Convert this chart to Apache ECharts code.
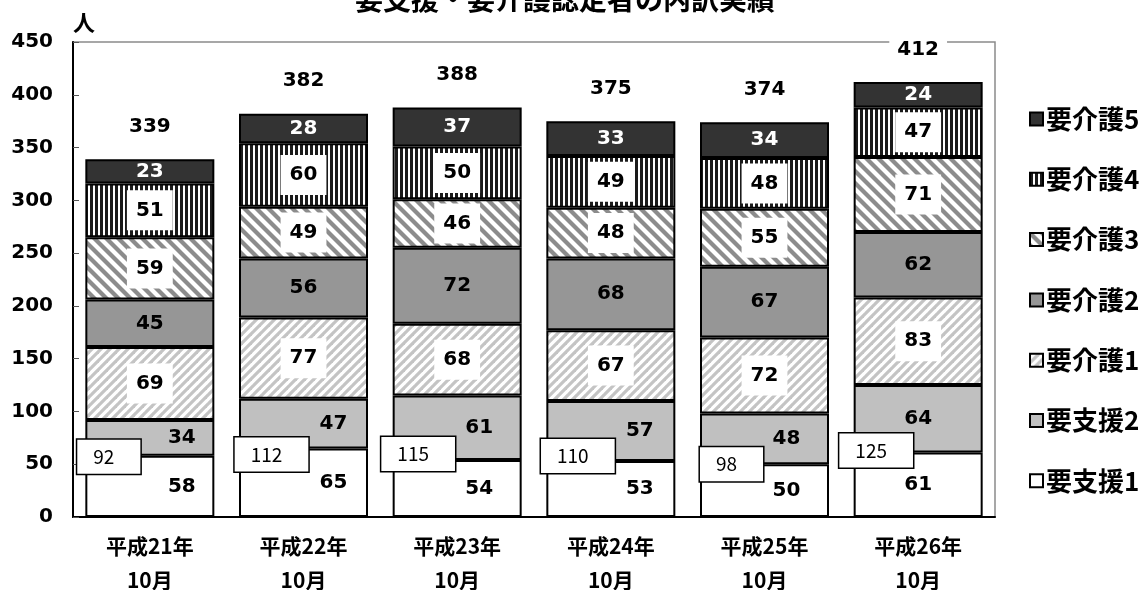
<!DOCTYPE html>
<html>
<head>
<meta charset="utf-8">
<script src="https://cdn.jsdelivr.net/npm/echarts@6/dist/echarts.min.js"></script>
<style>
  html, body { margin: 0; padding: 0; background: #fff; }
  #chart { width: 1147px; height: 590px; }
</style>
</head>
<body>
<div id="chart"></div>
<script>
// 年度
const categories = ["平成21年\n10月", "平成22年\n10月", "平成23年\n10月", "平成24年\n10月", "平成25年\n10月", "平成26年\n10月"];
// 各区分の人数
const shien1 = [58, 65, 54, 53, 50, 61];
const shien2 = [34, 47, 61, 57, 48, 64];
const kaigo1 = [69, 77, 68, 67, 72, 83];
const kaigo2 = [45, 56, 72, 68, 67, 62];
const kaigo3 = [59, 49, 46, 48, 55, 71];
const kaigo4 = [51, 60, 50, 49, 48, 47];
const kaigo5 = [23, 28, 37, 33, 34, 24];
const totals = [339, 382, 388, 375, 374, 412];
const shienTotals = [92, 112, 115, 110, 98, 125];
const yTicks = [0, 50, 100, 150, 200, 250, 300, 350, 400, 450];

// ラベル位置の微調整 (px)
const shienShift = [32, 30, 22, 29, 22, 0];
const boxShift = [[-41, 1], [-32, 6], [-39, -6], [-33, -5], [-33, 0], [-42, -2]];

const FONT = "'Noto Sans CJK JP', sans-serif";
const NUM_FONT = "'DejaVu Sans', 'Noto Sans CJK JP', sans-serif";

function stripes(dir, period, width, color) {
  const c = document.createElement("canvas");
  c.width = period;
  c.height = period;
  const ctx = c.getContext("2d");
  ctx.fillStyle = "#fff";
  ctx.fillRect(0, 0, period, period);
  ctx.strokeStyle = color;
  ctx.lineWidth = width;
  for (let k = -2; k <= 2; k++) {
    ctx.beginPath();
    if (dir === "/") {
      ctx.moveTo(k * period - period, 2 * period);
      ctx.lineTo(k * period + 2 * period, -period);
    } else {
      ctx.moveTo(k * period - period, -period);
      ctx.lineTo(k * period + 2 * period, 2 * period);
    }
    ctx.stroke();
  }
  return { image: c, repeat: "repeat" };
}

function vStripes() {
  const c = document.createElement("canvas");
  c.width = 5;
  c.height = 4;
  const ctx = c.getContext("2d");
  ctx.fillStyle = "#fff";
  ctx.fillRect(0, 0, 5, 4);
  ctx.fillStyle = "#1a1a1a";
  ctx.fillRect(0, 0, 3, 4);
  return { image: c, repeat: "repeat" };
}

const boldLabel = {
  show: true,
  fontFamily: NUM_FONT,
  fontWeight: "bold",
  fontSize: 20,
  color: "#000",
};
const boxedLabel = Object.assign({}, boldLabel, {
  backgroundColor: "#fff",
  padding: [10, 9],
  lineHeight: 20,
});

function barSeries(name, data, color, label, perItem) {
  return {
    name: name,
    type: "bar",
    stack: "all",
    barWidth: 129,
    data: data.map((v, i) => (perItem ? { value: v, label: perItem(i) } : v)),
    itemStyle: { color: color, borderColor: "#000", borderWidth: 2 },
    label: label,
    emphasis: { disabled: true },
  };
}

const series = [
  barSeries("要支援1", shien1, "#ffffff", boldLabel, (i) => ({ offset: [shienShift[i], 0] })),
  barSeries("要支援2", shien2, "#c0c0c0", boldLabel, (i) => ({ offset: [shienShift[i], 0] })),
  barSeries("要介護1", kaigo1, stripes("/", 9, 3.2, "#c4c4c4"), boxedLabel),
  barSeries("要介護2", kaigo2, "#969696", boldLabel),
  barSeries("要介護3", kaigo3, stripes("\\", 12, 4.2, "#8c8c8c"), boxedLabel),
  barSeries("要介護4", kaigo4, vStripes(), boxedLabel),
  barSeries("要介護5", kaigo5, "#333333", Object.assign({}, boldLabel, { color: "#fff" })),
  {
    name: "合計",
    type: "scatter",
    symbolSize: 1,
    itemStyle: { color: "rgba(0,0,0,0)", opacity: 1 },
    z: 10,
    data: totals,
    label: Object.assign({}, boldLabel, {
      position: "top",
      distance: 20,
      backgroundColor: "#fff",
      padding: [2, 8],
    }),
    emphasis: { disabled: true },
  },
  {
    name: "要支援計",
    type: "scatter",
    symbolSize: 1,
    itemStyle: { color: "rgba(0,0,0,0)", opacity: 1 },
    z: 10,
    data: shien1.map((v, i) => ({
      value: v,
      label: { offset: boxShift[i], formatter: String(shienTotals[i]) },
    })),
    label: {
      show: true,
      position: "inside",
      fontFamily: FONT,
      fontWeight: "normal",
      fontSize: 19,
      color: "#000",
      backgroundColor: "#fff",
      borderColor: "#000",
      borderWidth: 1.5,
      padding: [6, 26, 6, 16],
      lineHeight: 22,
      align: "center",
    },
    emphasis: { disabled: true },
  },
];

const chart = echarts.init(document.getElementById("chart"));
chart.setOption({
  animation: false,
  backgroundColor: "#fff",
  title: {
    text: "要支援・要介護認定者の内訳実績",
    left: 560,
    top: -20,
    textAlign: "center",
    textStyle: { fontFamily: FONT, fontWeight: "bold", fontSize: 28, color: "#000" },
  },
  legend: {
    orient: "vertical",
    left: 1024,
    top: 101,
    icon: "rect",
    itemWidth: 13,
    itemHeight: 13,
    itemGap: 34.3,
    data: ["要介護5", "要介護4", "要介護3", "要介護2", "要介護1", "要支援2", "要支援1"],
    textStyle: { fontFamily: FONT, fontWeight: "bold", fontSize: 26, color: "#000", padding: [0, 0, 0, -2] },
    selectedMode: false,
  },
  grid: {
    left: 73,
    right: 152,
    top: 42,
    bottom: 73,
    outerBoundsMode: "none",
    show: true,
    borderColor: "#8a8a8a",
    borderWidth: 1.5,
  },
  xAxis: {
    type: "category",
    data: categories,
    axisLine: { lineStyle: { color: "#000", width: 2 } },
    axisTick: { inside: true, length: 6, lineStyle: { color: "#888" } },
    axisLabel: {
      fontFamily: FONT,
      fontWeight: "bold",
      fontSize: 21,
      lineHeight: 34,
      color: "#000",
      margin: 12,
    },
  },
  yAxis: {
    type: "value",
    min: yTicks[0],
    max: yTicks[yTicks.length - 1],
    interval: yTicks[1] - yTicks[0],
    name: "人",
    nameLocation: "end",
    nameGap: 8,
    nameTextStyle: { fontFamily: FONT, fontWeight: "bold", fontSize: 22, color: "#000", align: "left" },
    splitLine: { show: false },
    axisLine: { show: true, lineStyle: { color: "#000", width: 2 } },
    axisTick: { show: true, inside: true, length: 6, lineStyle: { color: "#555" } },
    axisLabel: { fontFamily: NUM_FONT, fontWeight: "bold", fontSize: 20, color: "#000", margin: 20 },
  },
  series: series,
});
</script>
</body>
</html>
